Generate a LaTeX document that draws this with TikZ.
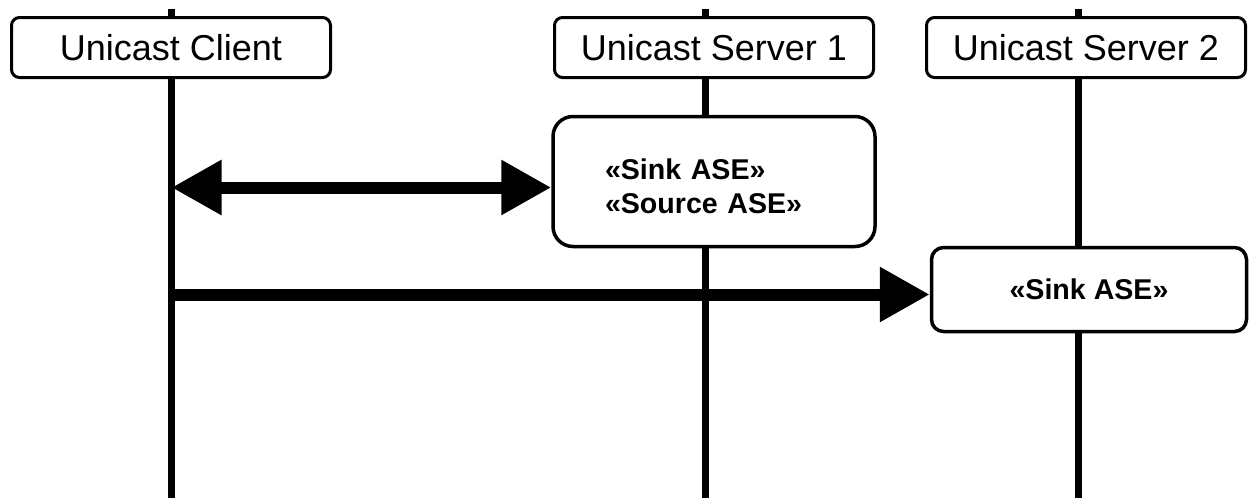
\documentclass[tikz,border=0pt]{standalone}
\usepackage{fontspec}
\setmainfont{Liberation Sans}
\usetikzlibrary{arrows.meta}
\tikzset{bigtip/.tip={Triangle[length=50pt,width=52pt]}}
\begin{document}
\begin{tikzpicture}[x=1pt,y=-1pt,
  lifeline/.style={line width=7pt},
  header/.style={draw,line width=3pt,rounded corners=8pt,fill=white,minimum width=319pt,minimum height=60pt,inner sep=0pt,font=\fontsize{36}{40}\selectfont},
  asebox/.style={draw,line width=3.5pt,fill=white,inner sep=0pt,font=\bfseries\fontsize{28.6}{36}\selectfont},
  msg/.style={line width=12pt}]
\useasboundingbox (0,0) rectangle (1250,498);
% lifelines
\coordinate (ctop) at (171.5,9);
\coordinate (cbot) at (171.5,498);
\coordinate (s1top) at (705.5,9);
\coordinate (s1bot) at (705.5,498);
\coordinate (s2top) at (1078,9);
\coordinate (s2bot) at (1078,498);
\draw[lifeline] (ctop) -- (cbot);
\draw[lifeline] (s1top) -- (s1bot);
\draw[lifeline] (s2top) -- (s2bot);
% headers
\node[header] (client) at (171,47.5) {Unicast Client};
\node[header] (server1) at (714,47.5) {Unicast Server 1};
\node[header] (server2) at (1086,47.5) {Unicast Server 2};
% ASE boxes
\node[asebox,rounded corners=20pt,minimum width=322pt,minimum height=130pt,text width=270pt,align=left,text depth=24pt] (ase1) at (714,181.5) {\hspace*{26pt}«Sink ASE»\\[-2pt]\hspace*{26pt}«Source ASE»};
\node[asebox,rounded corners=12pt,minimum width=315pt,minimum height=84pt] (ase2) at (1089,289.5) {«Sink ASE»};
% messages
\coordinate (m1) at (171.5,187.5);
\coordinate (m2) at (171.5,294.5);
\draw[msg,bigtip-bigtip] (m1) -- (ase1.west |- m1);
\draw[msg,-bigtip] (m2) -- (ase2.west |- m2);
\end{tikzpicture}
\end{document}
